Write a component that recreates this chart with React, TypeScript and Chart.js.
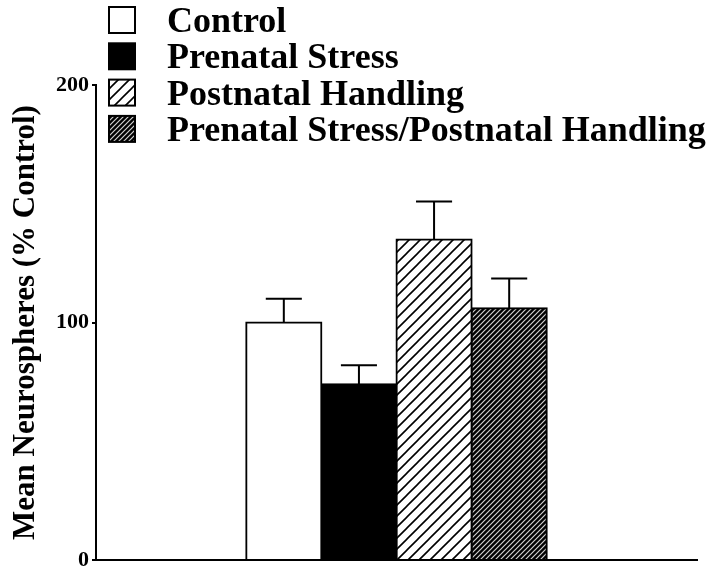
import React, { useEffect, useRef } from "react";
import { Chart, registerables } from "chart.js";

Chart.register(...registerables);

const groups = ["Control", "Prenatal Stress", "Postnatal Handling", "Prenatal Stress/Postnatal Handling"];
const categories = [""];
const meanValues = [100, 74, 135, 106];
const semValues = [10, 8, 16, 12.5];
const yTicks = [0, 100, 200];

const SERIF = "'Liberation Serif', 'Times New Roman', serif";

function makePattern(kind: "sparse" | "dense"): CanvasPattern | string {
  const c = document.createElement("canvas");
  const s = kind === "sparse" ? 11 : 5;
  c.width = s;
  c.height = s;
  const ctx = c.getContext("2d");
  if (!ctx) return "#888";
  ctx.fillStyle = kind === "sparse" ? "#ffffff" : "#000000";
  ctx.fillRect(0, 0, s, s);
  ctx.strokeStyle = kind === "sparse" ? "#000000" : "#d0d0d0";
  ctx.lineWidth = kind === "sparse" ? 1.6 : 1.2;
  ctx.beginPath();
  ctx.moveTo(0, s);
  ctx.lineTo(s, 0);
  ctx.moveTo(-2, 2);
  ctx.lineTo(2, -2);
  ctx.moveTo(s - 2, s + 2);
  ctx.lineTo(s + 2, s - 2);
  ctx.stroke();
  const p = ctx.createPattern(c, "repeat");
  return p || "#888";
}

export default function App() {
  const ref = useRef<HTMLCanvasElement | null>(null);

  useEffect(() => {
    if (!ref.current) return;
    const fills: (string | CanvasPattern)[] = ["#ffffff", "#000000", makePattern("sparse"), makePattern("dense")];

    const errorBars = {
      id: "errorBars",
      afterDatasetsDraw(chart: any) {
        const ctx = chart.ctx;
        const yScale = chart.scales.y;
        ctx.save();
        ctx.strokeStyle = "#000";
        ctx.lineWidth = 2;
        chart.data.datasets.forEach((ds: any, i: number) => {
          const meta = chart.getDatasetMeta(i);
          meta.data.forEach((el: any, j: number) => {
            const v = ds.data[j];
            const e = semValues[i];
            const yTop = yScale.getPixelForValue(v + e);
            const yBar = yScale.getPixelForValue(v);
            const half = el.width * 0.24;
            ctx.beginPath();
            ctx.moveTo(el.x, yBar);
            ctx.lineTo(el.x, yTop);
            ctx.moveTo(el.x - half, yTop);
            ctx.lineTo(el.x + half, yTop);
            ctx.stroke();
          });
        });
        ctx.restore();
      },
    };

    const customLegend = {
      id: "customLegend",
      afterDraw(chart: any) {
        const ctx = chart.ctx;
        ctx.save();
        const boxX = 109;
        const boxSize = 26;
        const top0 = 7;
        const step = 36.3;
        chart.data.datasets.forEach((ds: any, i: number) => {
          const top = top0 + i * step;
          ctx.fillStyle = ds.backgroundColor;
          ctx.fillRect(boxX, top, boxSize, boxSize);
          ctx.strokeStyle = "#000";
          ctx.lineWidth = 2;
          ctx.strokeRect(boxX, top, boxSize, boxSize);
          ctx.fillStyle = "#000";
          ctx.font = `bold 36px ${SERIF}`;
          ctx.textBaseline = "alphabetic";
          ctx.textAlign = "left";
          ctx.fillText(ds.label, 167, top + 25);
        });
        ctx.restore();
      },
    };

    const chart = new Chart(ref.current, {
      type: "bar",
      data: {
        labels: categories,
        datasets: groups.map((g, i) => ({
          label: g,
          data: [meanValues[i]],
          backgroundColor: fills[i] as any,
          borderColor: "#000",
          borderWidth: 2,
          inflateAmount: 1,
          categoryPercentage: 0.5,
          barPercentage: 1.0,
        })),
      },
      options: {
        responsive: false,
        animation: false,
        layout: { padding: { top: 85, right: 23, left: 0, bottom: 0 } },
        plugins: {
          legend: { display: false },
          tooltip: { enabled: false },
        },
        scales: {
          x: {
            grid: { display: false },
            ticks: { display: false },
            border: { display: true, color: "#000", width: 2 },
            afterFit(scale: any) {
              scale.height = 19;
            },
          },
          y: {
            min: 0,
            max: 200,
            afterBuildTicks(scale: any) {
              scale.ticks = yTicks.map((v) => ({ value: v }));
            },
            ticks: {
              color: "#000",
              font: { family: SERIF, size: 22, weight: "bold" },
              padding: 3,
            },
            grid: {
              display: true,
              drawOnChartArea: false,
              drawTicks: true,
              tickLength: 4,
              color: "#000",
              lineWidth: 2,
            },
            border: { display: true, color: "#000", width: 2 },
            title: {
              display: true,
              text: "Mean Neurospheres (% Control)",
              color: "#000",
              font: { family: SERIF, size: 31, weight: "bold", lineHeight: 1 },
              padding: { top: 10, bottom: 0 },
            },
            afterFit(scale: any) {
              scale.width = 96;
            },
          },
        },
      },
      plugins: [errorBars, customLegend],
    });

    return () => chart.destroy();
  }, []);

  return (
    <div style={{ position: "fixed", left: 0, top: 0, width: 720, height: 579, background: "#fff" }}>
      <canvas ref={ref} width={720} height={579} style={{ display: "block" }} />
    </div>
  );
}
